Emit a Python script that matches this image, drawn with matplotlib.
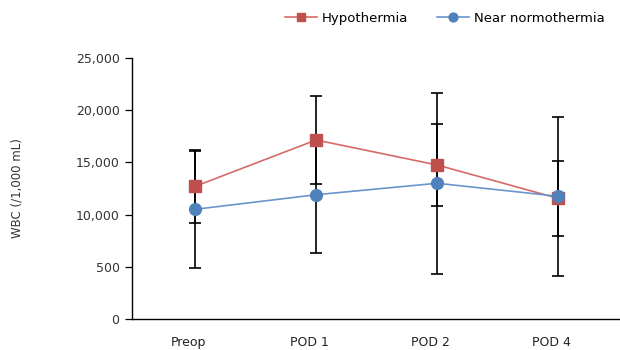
import numpy as np
import matplotlib.pyplot as plt
import matplotlib.transforms as mtransforms

plt.rcParams['font.family'] = ['DejaVu Sans']

days = ["Preop", "POD 1", "POD 2", "POD 4"]
hypo = [12700, 17150, 14750, 11550]
hypo_err = [3500, 4250, 3900, 3600]
norm = [10500, 11900, 13000, 11750]
norm_err = [5600, 5600, 8700, 7600]
yticks = [0, 5000, 10000, 15000, 20000, 25000]
ylabels = ["0", "500", "10,000", "15,000", "20,000", "25,000"]

red = "#c0504d"
blue = "#4f81bd"

fig = plt.figure(figsize=(6.2, 3.5), dpi=100)
ax = fig.add_axes([0.213, 0.089, 0.787, 0.745])
x = np.arange(len(days))

ax.errorbar(x, norm, yerr=norm_err, fmt="none", ecolor="black", elinewidth=1.2,
            capsize=4.5, capthick=1.2, zorder=2)
ax.errorbar(x, hypo, yerr=hypo_err, fmt="none", ecolor="black", elinewidth=1.2,
            capsize=4.5, capthick=1.2, zorder=2)
ax.plot(x, hypo, color="#d66a66", lw=1.2, marker="s", markersize=8,
        markerfacecolor=red, markeredgecolor=red, label="Hypothermia", zorder=3)
ax.plot(x, norm, color="#6a95cc", lw=1.2, marker="o", markersize=8.5,
        markerfacecolor=blue, markeredgecolor=blue, label="Near normothermia", zorder=3)

ax.set_xlim(-0.52, 3.51)
ax.set_ylim(0, 25000)
ax.set_yticks(yticks)
ax.set_yticklabels(ylabels)
ax.set_xticks(x)
ax.set_xticklabels(days)
ax.tick_params(axis="x", length=0, pad=12, labelsize=9, labelcolor="#222222")
ax.tick_params(axis="y", length=5, width=0.9, pad=4, labelsize=9, labelcolor="#333333")
offset = mtransforms.ScaledTranslation(-7 / 100, 0, fig.dpi_scale_trans)
for lab in ax.get_xticklabels():
    lab.set_transform(lab.get_transform() + offset)

for s in ["top", "right"]:
    ax.spines[s].set_visible(False)
for s in ["left", "bottom"]:
    ax.spines[s].set_linewidth(1.0)

ax.set_ylabel("WBC (/1,000 mL)", fontsize=8.5, color="#333333")
ax.yaxis.set_label_coords(-0.222, 0.5)

fig.legend(loc="upper right", bbox_to_anchor=(0.995, 1.0), ncol=2, frameon=False,
           fontsize=9.5, handlelength=2.4, columnspacing=2.2, handletextpad=0.4,
           markerscale=0.75)

fig.savefig("out.png", dpi=100)
